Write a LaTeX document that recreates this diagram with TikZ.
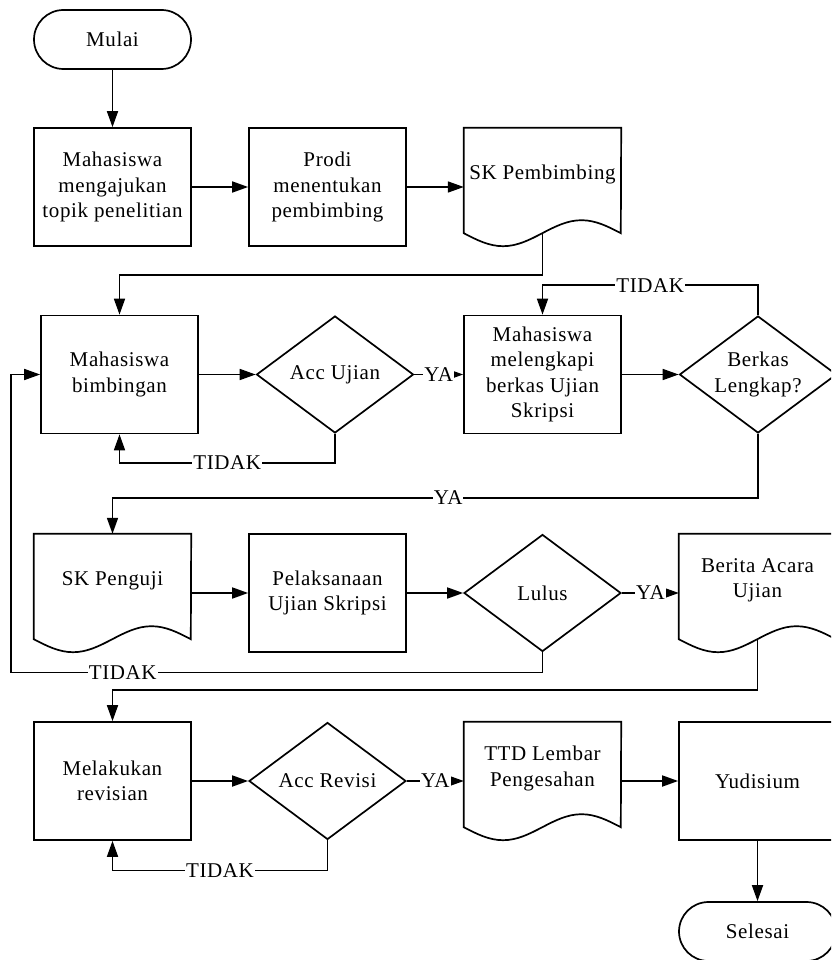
\documentclass[tikz,border=0pt]{standalone}
\usepackage{fontspec}
\setmainfont[LetterSpace=3]{Liberation Serif}
\usetikzlibrary{arrows.meta,shapes.geometric}

% outline of a document symbol drawn around a (borderless) node
\newcommand\docoutline[1]{%
  \draw[shapeline] (#1.north east) -- (#1.north west) -- ([yshift=13pt]#1.south west)
    sin ++(39.25pt,-13pt) cos ++(39.25pt,13pt) sin ++(39.25pt,13pt) cos ++(39.25pt,-13pt) -- cycle;}

\begin{document}
\begin{tikzpicture}[x=1pt,y=-1pt,
  every node/.style={font=\fontsize{21}{25.5}\selectfont},
  shapeline/.style={line width=1.7pt},
  process/.style={draw, line width=1.7pt, rectangle, minimum width=157pt, minimum height=118pt, inner sep=0pt, align=center},
  terminal/.style={draw, line width=1.7pt, rectangle, rounded corners=29.5pt, minimum width=157pt, minimum height=59pt, align=center},
  decision/.style={draw, line width=1.7pt, diamond, aspect=1.34, minimum width=157pt, minimum height=117pt, inner sep=0pt, align=center},
  docnode/.style={rectangle, minimum width=157pt, minimum height=118pt, inner sep=0pt, align=center},
  conn/.style={line width=1.7pt, -{Triangle[length=16pt,width=11pt]}},
  lbl/.style={fill=white, inner sep=1pt},
]
\useasboundingbox (0,0) rectangle (831,960);
\clip (0,0) rectangle (831,960);

% nodes
\node[terminal] (mulai) at (112.5,39.5) {Mulai};
\node[process] (topik) at (112.5,187) {Mahasiswa\\mengajukan\\topik penelitian};
\node[process] (prodi) at (327.5,187) {Prodi\\menentukan\\pembimbing};
\node[docnode] (skpb) at (542.5,187) {SK Pembimbing\\[4pt]\mbox{}};
\node[process] (bimb) at (119.5,374.5) {Mahasiswa\\bimbingan};
\node[decision] (accuj) at (335,374.5) {Acc Ujian};
\node[process] (lengkapi) at (542.5,374.5) {Mahasiswa\\melengkapi\\berkas Ujian\\Skripsi};
\node[decision] (berkas) at (758,374.5) {Berkas\\Lengkap?};
\node[docnode] (skpg) at (112.5,593) {SK Penguji\\[4pt]\mbox{}};
\node[process] (ujian) at (327.5,593) {Pelaksanaan\\Ujian Skripsi};
\node[decision] (lulus) at (542.5,593) {Lulus};
\node[docnode] (berita) at (757.5,593) {Berita Acara\\Ujian\\[4pt]\mbox{}};
\node[process] (revisi) at (112.5,781) {Melakukan\\revisian};
\node[decision] (accrev) at (327.5,781) {Acc Revisi};
\node[docnode] (ttd) at (542.5,781) {TTD Lembar\\Pengesahan\\[4pt]\mbox{}};
\node[process] (yudis) at (757.5,781) {Yudisium};
\node[terminal] (selesai) at (757.5,931.5) {Selesai};

% document outlines
\docoutline{skpb}
\docoutline{skpg}
\docoutline{berita}
\docoutline{ttd}

% connectors
\draw[conn] (mulai) -- (topik);
\draw[conn] (topik) -- (prodi);
\draw[conn] (prodi) -- (skpb);
\draw[conn] ([yshift=13pt]skpb.south) -- ++(0,42) -| (bimb.north);
\draw[conn] (bimb) -- (accuj);
\draw[conn] (accuj.south) -- ++(0,29) -| node[lbl,pos=0.25]{TIDAK} (bimb.south);
\draw[conn] (accuj) -- node[lbl]{YA} (lengkapi);
\draw[conn] (lengkapi) -- (berkas);
\draw[conn] (berkas.north) -- ++(0,-30) -| node[lbl,pos=0.25]{TIDAK} (lengkapi.north);
\draw[conn] (berkas.south) -- ++(0,64) -| node[lbl,pos=0.24]{YA} (skpg.north);
\draw[conn] (skpg) -- (ujian);
\draw[conn] (ujian) -- (lulus);
\draw[conn] (lulus) -- node[lbl]{YA} (berita);
\draw[conn] (lulus.south) -- ++(0,20) -| node[lbl,pos=0.395]{TIDAK} ([xshift=-29pt]bimb.west) -- (bimb.west);
\draw[conn] ([yshift=13pt]berita.south) -- ++(0,51) -| (revisi.north);
\draw[conn] (revisi) -- (accrev);
\draw[conn] (accrev.south) -- ++(0,30) -| node[lbl,pos=0.25]{TIDAK} (revisi.south);
\draw[conn] (accrev) -- node[lbl]{YA} (ttd);
\draw[conn] (ttd) -- (yudis);
\draw[conn] (yudis) -- (selesai);
\end{tikzpicture}
\end{document}
